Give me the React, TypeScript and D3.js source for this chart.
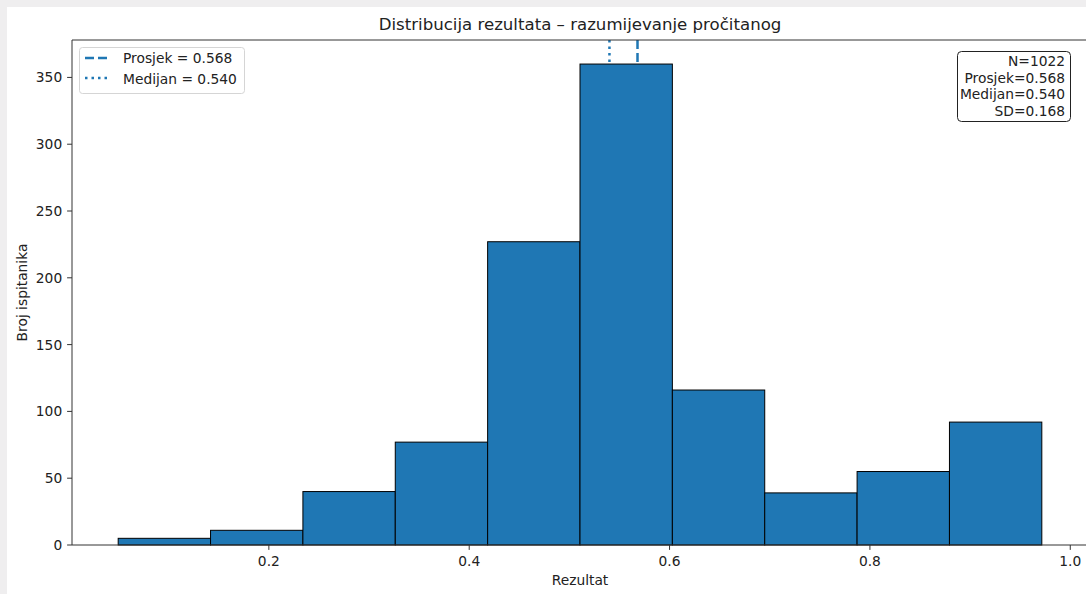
import * as d3 from "d3";

// histogram of scores (10 bins between min and max)
const binStart = 0.0496;
const binEnd = 0.9716;
const counts = [5, 11, 40, 77, 227, 360, 116, 39, 55, 92];
const xTicks = [0.2, 0.4, 0.6, 0.8, 1.0];
const yTicks = [0, 50, 100, 150, 200, 250, 300, 350];
const meanVal = 0.568;
const medianVal = 0.54;
const statLines = ["N=1022", "Prosjek=0.568", "Medijan=0.540", "SD=0.168"];

const W = 1086;
const H = 594;
const m = { left: 72, right: 1088, top: 40, bottom: 545 };
const blue = "#1f77b4";
const font = "DejaVu Sans, sans-serif";
const fs = 13.8;

const App = () => {
  const binW = (binEnd - binStart) / counts.length;
  const bins = counts.map((c, i) => ({ x0: binStart + i * binW, x1: binStart + (i + 1) * binW, c }));
  const pad = (binEnd - binStart) * 0.05;
  const x = d3.scaleLinear().domain([binStart - pad, binEnd + pad]).range([m.left, m.right]);
  const yMax = d3.max(counts)! * 1.05;
  const y = d3.scaleLinear().domain([0, yMax]).range([m.bottom, m.top]);

  return (
    <svg width={W} height={H} style={{ position: "absolute", left: 0, top: 0 }} fontFamily={font}>
      <rect width={W} height={H} fill="#efeeef" />
      <rect x={7} y={7} width={W - 7} height={H - 7} fill="#fff" />

      <text x={(m.left + m.right) / 2} y={30} textAnchor="middle" fontSize={16.6} fill="#222">
        Distribucija rezultata – razumijevanje pročitanog
      </text>

      {/* reference lines sit behind the bars */}
      <line x1={x(meanVal)} x2={x(meanVal)} y1={m.top} y2={m.bottom} stroke={blue} strokeWidth={2.5} strokeDasharray="9,4" />
      <line x1={x(medianVal)} x2={x(medianVal)} y1={m.top} y2={m.bottom} stroke={blue} strokeWidth={2.5} strokeDasharray="2.5,4" />

      {bins.map((b, i) => (
        <rect
          key={i}
          x={x(b.x0)}
          y={y(b.c)}
          width={x(b.x1) - x(b.x0)}
          height={y(0) - y(b.c)}
          fill={blue}
          stroke="#000"
          strokeWidth={1}
        />
      ))}

      {/* spines */}
      <line x1={m.left} x2={m.left} y1={m.top} y2={m.bottom} stroke="#333" strokeWidth={1} />
      <line x1={m.left} x2={m.right} y1={m.bottom} y2={m.bottom} stroke="#333" strokeWidth={1} />
      <line x1={m.left} x2={m.right} y1={m.top} y2={m.top} stroke="#333" strokeWidth={1} />

      {yTicks.map(t => (
        <g key={t}>
          <line x1={m.left - 4.9} x2={m.left} y1={y(t)} y2={y(t)} stroke="#333" />
          <text x={m.left - 9.8} y={y(t) + 5} textAnchor="end" fontSize={fs} fill="#222">{t}</text>
        </g>
      ))}
      {xTicks.map(t => (
        <g key={t}>
          <line x1={x(t)} x2={x(t)} y1={m.bottom} y2={m.bottom + 4.9} stroke="#333" />
          <text x={x(t)} y={565.5} textAnchor="middle" fontSize={fs} fill="#222">{t.toFixed(1)}</text>
        </g>
      ))}

      <text x={(m.left + m.right) / 2} y={585} textAnchor="middle" fontSize={fs} fill="#222">Rezultat</text>
      <text transform={`translate(27,${(m.top + m.bottom) / 2}) rotate(-90)`} textAnchor="middle" fontSize={fs} fill="#222">
        Broj ispitanika
      </text>

      {/* legend */}
      <rect x={79.5} y={47.5} width={165} height={46} rx={3} fill="#fff" fillOpacity={0.8} stroke="#d5d5d5" />
      <line x1={85} x2={110} y1={58} y2={58} stroke={blue} strokeWidth={2.5} strokeDasharray="9,4" />
      <line x1={85} x2={110} y1={78} y2={78} stroke={blue} strokeWidth={2.5} strokeDasharray="2.5,4" />
      <text x={123} y={63} fontSize={fs} fill="#222">Prosjek = {meanVal.toFixed(3)}</text>
      <text x={123} y={83.5} fontSize={fs} fill="#222">Medijan = {medianVal.toFixed(3)}</text>

      {/* stats box */}
      <rect x={957.5} y={51.5} width={113} height={70} rx={4} fill="#fff" stroke="#222" strokeWidth={1} />
      {statLines.map((s, i) => (
        <text key={s} x={1065} y={66 + i * 16.6} textAnchor="end" fontSize={fs} fill="#222">{s}</text>
      ))}
    </svg>
  );
};

export default App;
